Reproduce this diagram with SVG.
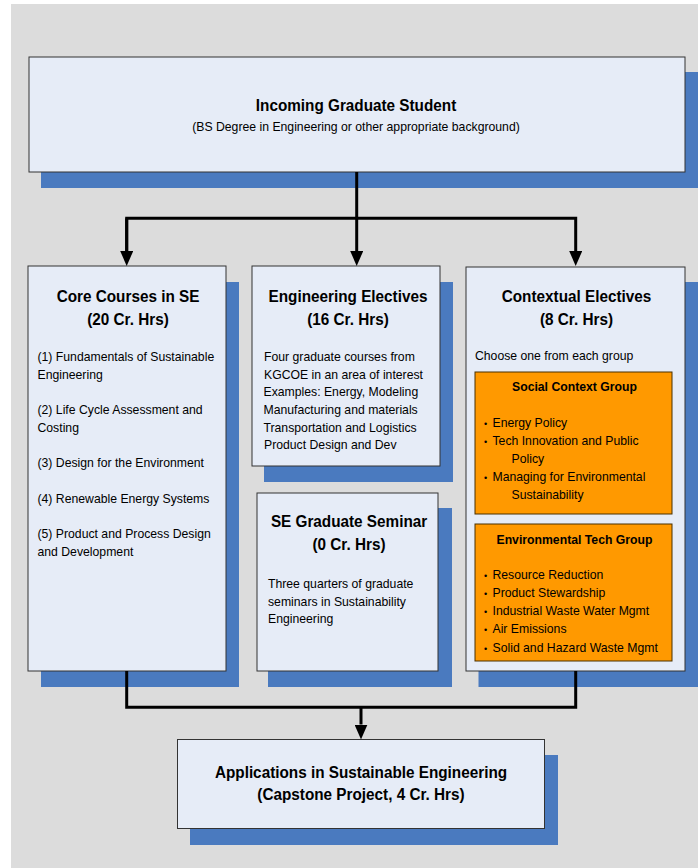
<svg xmlns="http://www.w3.org/2000/svg" width="698" height="868" viewBox="0 0 698 868">
  <style>
    .bg { fill: #DCDCDC; }
    .shadow { fill: #4A7ABF; }
    .box { fill: #E6ECF7; stroke: #333333; stroke-width: 1; }
    .group { fill: #FF9900; stroke: #4A3000; stroke-width: 1; }
    text { font-family: "Liberation Sans", Arial, sans-serif; fill: #000000; transform-box: fill-box; }
    .title { font-size: 17px; font-weight: bold; text-anchor: middle; transform-origin: center; transform: scaleX(0.9); }
    .body { font-size: 13.6px; transform-origin: left center; transform: scaleX(0.9); }
    .sub { font-size: 13.6px; text-anchor: middle; transform-origin: center; transform: scaleX(0.9); }
    .gtitle { font-size: 13.6px; font-weight: bold; text-anchor: middle; transform-origin: center; transform: scaleX(0.9); }
    .bullet { font-size: 9px; }
    .conn { fill: none; stroke: #000000; stroke-width: 3; stroke-linejoin: miter; }
  </style>
  <defs>
    <marker id="ah" viewBox="0 0 15 13" refX="0" refY="6.5" markerWidth="15" markerHeight="13" markerUnits="userSpaceOnUse" orient="auto">
      <path d="M0,0 L15,6.5 L0,13 z" fill="#000000"/>
    </marker>
  </defs>

  <rect class="bg" x="11" y="4" width="687" height="864"/>

  <g id="incoming">
    <rect class="shadow" x="41" y="72" width="657" height="116"/>
    <rect class="box" x="29" y="57" width="656" height="115"/>
    <text class="title" x="356" y="111.5">Incoming Graduate Student</text>
    <text class="sub" x="356" y="131.5">(BS Degree in Engineering or other appropriate background)</text>
  </g>

  <g id="core">
    <rect class="shadow" x="41" y="282" width="198" height="405"/>
    <rect class="box" x="28" y="266" width="198" height="405"/>
    <text class="title" x="128" y="302">Core Courses in SE</text>
    <text class="title" x="128" y="325">(20 Cr. Hrs)</text>
    <text class="body" x="37.5" y="361.5">(1) Fundamentals of Sustainable</text>
    <text class="body" x="37.5" y="379">Engineering</text>
    <text class="body" x="37.5" y="414.5">(2) Life Cycle Assessment and</text>
    <text class="body" x="37.5" y="432.5">Costing</text>
    <text class="body" x="37.5" y="467.5">(3) Design for the Environment</text>
    <text class="body" x="37.5" y="503">(4) Renewable Energy Systems</text>
    <text class="body" x="37.5" y="538.5">(5) Product and Process Design</text>
    <text class="body" x="37.5" y="556">and Development</text>
  </g>

  <g id="eng-electives">
    <rect class="shadow" x="264" y="282" width="189" height="200"/>
    <rect class="box" x="252" y="266" width="188" height="200"/>
    <text class="title" x="348" y="302">Engineering Electives</text>
    <text class="title" x="348" y="325">(16 Cr. Hrs)</text>
    <text class="body" x="264" y="361">Four graduate courses from</text>
    <text class="body" x="264" y="378.7">KGCOE in an area of interest</text>
    <text class="body" x="263.5" y="396.3">Examples: Energy, Modeling</text>
    <text class="body" x="263.5" y="414">Manufacturing and materials</text>
    <text class="body" x="263.5" y="431.7">Transportation and Logistics</text>
    <text class="body" x="264" y="449.3">Product Design and Dev</text>
  </g>

  <g id="seminar">
    <rect class="shadow" x="268" y="508" width="184" height="179"/>
    <rect class="box" x="257" y="493" width="181" height="178"/>
    <text class="title" x="349" y="527">SE Graduate Seminar</text>
    <text class="title" x="349" y="550">(0 Cr. Hrs)</text>
    <text class="body" x="268" y="588.3">Three quarters of graduate</text>
    <text class="body" x="268" y="605.7">seminars in Sustainability</text>
    <text class="body" x="268" y="623">Engineering</text>
  </g>

  <g id="contextual">
    <rect class="shadow" x="478.5" y="282" width="219.5" height="405"/>
    <rect class="box" x="466" y="267" width="219" height="404"/>
    <text class="title" x="576.5" y="302">Contextual Electives</text>
    <text class="title" x="576.5" y="325">(8 Cr. Hrs)</text>
    <text class="body" x="475" y="360">Choose one from each group</text>
  </g>

  <g id="social-group">
    <rect class="group" x="475" y="372" width="197" height="142"/>
    <text class="gtitle" x="574.5" y="391.5">Social Context Group</text>
    <text class="bullet" x="484" y="427">•</text>
    <text class="body" x="492.5" y="427.3">Energy Policy</text>
    <text class="bullet" x="484" y="445">•</text>
    <text class="body" x="492.5" y="445.3">Tech Innovation and Public</text>
    <text class="body" x="511.5" y="463.3">Policy</text>
    <text class="bullet" x="484" y="481">•</text>
    <text class="body" x="492.5" y="481.3">Managing for Environmental</text>
    <text class="body" x="511.5" y="499.3">Sustainability</text>
  </g>

  <g id="env-tech-group">
    <rect class="group" x="475" y="524" width="197" height="137"/>
    <text class="gtitle" x="574.5" y="544">Environmental Tech Group</text>
    <text class="bullet" x="484" y="579">•</text>
    <text class="body" x="492.5" y="579.3">Resource Reduction</text>
    <text class="bullet" x="484" y="597">•</text>
    <text class="body" x="492.5" y="597.3">Product Stewardship</text>
    <text class="bullet" x="484" y="615">•</text>
    <text class="body" x="492.5" y="615.3">Industrial Waste Water Mgmt</text>
    <text class="bullet" x="484" y="633">•</text>
    <text class="body" x="492.5" y="633.3">Air Emissions</text>
    <text class="bullet" x="484" y="651.5">•</text>
    <text class="body" x="492.5" y="651.7">Solid and Hazard Waste Mgmt</text>
  </g>

  <g id="applications">
    <rect class="shadow" x="190" y="755" width="368" height="90"/>
    <rect class="box" x="177.5" y="739.5" width="367" height="89"/>
    <text class="title" x="361" y="778.5">Applications in Sustainable Engineering</text>
    <text class="title" x="361" y="800.5">(Capstone Project, 4 Cr. Hrs)</text>
  </g>

  <g id="connectors">
    <path class="conn" d="M356.7,172 V251" marker-end="url(#ah)"/>
    <path class="conn" d="M126.7,251 V218.3 H575.7 V251" marker-end="url(#ah)"/>
    <path class="conn" d="M126.7,218.3 V251" marker-end="url(#ah)"/>
    <path class="conn" d="M126.7,671 V707.3 H575.7 V671"/>
    <path class="conn" d="M361,707.3 V724.5" marker-end="url(#ah)"/>
  </g>
</svg>
